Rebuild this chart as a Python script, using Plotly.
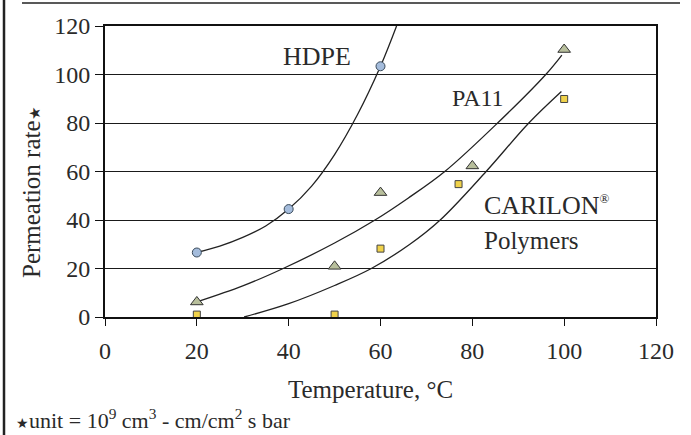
import plotly.graph_objects as go

# ---- data ----
hdpe_x = [20, 40, 60]
hdpe_y = [26.6, 44.5, 103.4]
pa11_x = [20, 50, 60, 80, 100]
pa11_y = [6.2, 20.9, 51.3, 62.3, 110.3]
carilon_x = [20, 50, 60, 77, 100]
carilon_y = [1.0, 1.0, 28.2, 54.8, 89.9]

# hand-drawn trend curves
hdpe_curve_x = [20, 25, 30, 35, 40, 45, 50, 55, 60, 63.5]
hdpe_curve_y = [26.6, 29.2, 32.8, 37.5, 44.5, 54, 67, 83.5, 103.4, 120]
pa11_curve_x = [20, 30, 38.8, 50, 58.8, 66, 74, 85.5, 96, 99.5]
pa11_curve_y = [6.2, 12.8, 20, 30.5, 40, 49, 60, 80, 100, 108]
carilon_curve_x = [30.3, 40, 50, 58, 66.4, 73, 83, 92.3, 99.4]
carilon_curve_y = [0, 5.5, 13, 20, 30, 40, 60, 80, 93]

x_ticks = [0, 20, 40, 60, 80, 100, 120]
y_ticks = [0, 20, 40, 60, 80, 100, 120]

FONT = "Liberation Serif"
TXT = "#2a2a2a"

W, H = 691, 435
L, R, T, B = 105, 35, 26, 118
pw, ph = W - L - R, H - T - B


def px(xp):
    return (xp - L) / pw


def py(yp):
    return (H - B - yp) / ph


fig = go.Figure()

for cx, cy in [(hdpe_curve_x, hdpe_curve_y), (pa11_curve_x, pa11_curve_y),
               (carilon_curve_x, carilon_curve_y)]:
    fig.add_trace(go.Scatter(x=cx, y=cy, mode="lines",
                             line=dict(color="#222222", width=1.3, shape="spline", smoothing=1.0),
                             hoverinfo="skip", showlegend=False, cliponaxis=True))

fig.add_trace(go.Scatter(x=hdpe_x, y=hdpe_y, mode="markers", name="HDPE",
                         marker=dict(symbol="circle", size=9, color="#a4bcdc",
                                     line=dict(color="#3a4a5a", width=1)),
                         showlegend=False, cliponaxis=False))
fig.add_trace(go.Scatter(x=pa11_x, y=pa11_y, mode="markers", name="PA11",
                         marker=dict(symbol="triangle-up", size=11, color="#b8bf9c",
                                     line=dict(color="#333333", width=1)),
                         showlegend=False, cliponaxis=False))
fig.add_trace(go.Scatter(x=carilon_x, y=carilon_y, mode="markers", name="CARILON",
                         marker=dict(symbol="square", size=7, color="#f0d24a",
                                     line=dict(color="#444444", width=1)),
                         showlegend=False, cliponaxis=False))

fig.update_xaxes(range=[0, 120], tickvals=x_ticks, ticktext=[str(v) for v in x_ticks],
                 showgrid=False, zeroline=False, showline=True, linecolor="#111111",
                 linewidth=2, mirror=True, ticks="outside", ticklen=7, tickcolor="#111111",
                 tickwidth=1, ticklabelstandoff=4,
                 tickfont=dict(family=FONT, size=24, color=TXT))
fig.update_yaxes(range=[0, 120], tickvals=y_ticks, ticktext=[str(v) for v in y_ticks],
                 showgrid=True, gridcolor="#1a1a1a", gridwidth=1.4, zeroline=False,
                 showline=True, linecolor="#111111", linewidth=2, mirror=True,
                 ticks="outside", ticklen=8, tickcolor="#111111", tickwidth=1,
                 tickfont=dict(family=FONT, size=24, color=TXT))

annots = [
    dict(x=px(317), y=py(57), text="HDPE", size=26),
    dict(x=px(478), y=py(98), text="PA11", size=24),
    dict(x=px(482), y=py(205), text="CARILON<sup><span style='font-size:13px'>®</span></sup>",
         size=26, xanchor="left"),
    dict(x=px(482), y=py(240), text="Polymers", size=25, xanchor="left"),
    dict(x=px(370), y=py(389), text="Temperature, °C", size=25),
    dict(x=px(14), y=py(419),
         text="<span style='font-size:14px'>★</span>unit = 10<sup>9</sup> cm<sup>3</sup> - cm/cm<sup>2</sup> s bar",
         size=22, xanchor="left"),
]
for a in annots:
    fig.add_annotation(x=a["x"], y=a["y"], xref="paper", yref="paper", text=a["text"],
                       showarrow=False, xanchor=a.get("xanchor", "center"), yanchor="middle",
                       font=dict(family=FONT, size=a["size"], color=TXT))

fig.add_annotation(x=px(31), y=py(193), xref="paper", yref="paper",
                   text="Permeation rate<span style='font-size:15px'>★</span>",
                   textangle=-90, showarrow=False, xanchor="center", yanchor="middle",
                   font=dict(family=FONT, size=25, color=TXT))

# page frame lines
fig.add_shape(type="line", xref="paper", yref="paper", x0=px(4), x1=px(4), y0=py(0), y1=py(435),
              line=dict(color="#222222", width=2.5))
fig.add_shape(type="line", xref="paper", yref="paper", x0=px(22), x1=px(680), y0=py(3), y1=py(3),
              line=dict(color="#222222", width=1.5))

fig.update_layout(width=W, height=H, margin=dict(l=L, r=R, t=T, b=B),
                  paper_bgcolor="white", plot_bgcolor="white", showlegend=False)

fig.write_html("out.html")
